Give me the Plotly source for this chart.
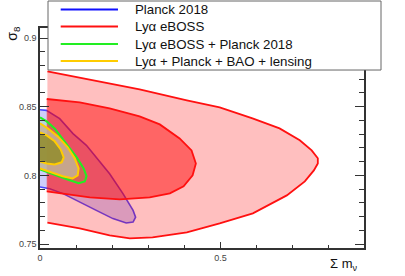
import plotly.graph_objects as go

# ---- data (sum m_nu [eV], sigma_8) ----
planck95_x = [0.0, 0.0177, 0.0546, 0.0915, 0.1286, 0.156, 0.193, 0.230, 0.258, 0.265, 0.258, 0.239, 0.202, 0.156, 0.110, 0.0637, 0.0269, 0.0]
planck95_y = [0.8478, 0.8473, 0.8413, 0.8304, 0.8219, 0.8133, 0.8012, 0.7867, 0.7745, 0.7696, 0.7660, 0.7653, 0.7685, 0.7745, 0.7806, 0.7867, 0.7903, 0.7915]

lya95_x = [0.0205, 0.110, 0.221, 0.276, 0.407, 0.498, 0.589, 0.664, 0.720, 0.753, 0.770, 0.770, 0.759, 0.734, 0.684, 0.590, 0.498, 0.407, 0.312, 0.249, 0.193, 0.110, 0.0205]
lya95_y = [0.8757, 0.8712, 0.8656, 0.8626, 0.8546, 0.8495, 0.8415, 0.8342, 0.8255, 0.8182, 0.8124, 0.8087, 0.8036, 0.7956, 0.7854, 0.7723, 0.7650, 0.7585, 0.7549, 0.7541, 0.7563, 0.7614, 0.7655]

lya68_x = [0.0186, 0.110, 0.193, 0.276, 0.332, 0.387, 0.420, 0.432, 0.423, 0.398, 0.360, 0.304, 0.221, 0.138, 0.0186]
lya68_y = [0.8556, 0.8532, 0.8488, 0.8430, 0.8371, 0.8269, 0.8182, 0.8087, 0.8000, 0.7920, 0.7869, 0.7840, 0.7825, 0.7840, 0.7883]

lyapl95_x = [0.0, 0.0186, 0.0407, 0.0732, 0.1017, 0.121, 0.129, 0.124, 0.107, 0.0823, 0.0463, 0.0186, 0.0]
lyapl95_y = [0.8422, 0.8393, 0.8342, 0.8233, 0.8131, 0.8051, 0.7993, 0.7956, 0.7942, 0.7964, 0.8000, 0.8029, 0.8044]

all95_x = [0.0, 0.0213, 0.049, 0.0768, 0.0962, 0.107, 0.1045, 0.0906, 0.0629, 0.0324, 0.0]
all95_y = [0.8379, 0.8342, 0.8284, 0.8204, 0.8124, 0.8051, 0.8000, 0.7978, 0.7993, 0.8022, 0.8051]

all68_x = [0.0, 0.0186, 0.0407, 0.0574, 0.0657, 0.0601, 0.0407, 0.0186, 0.0]
all68_y = [0.8313, 0.8291, 0.8248, 0.8189, 0.8131, 0.8095, 0.8080, 0.8087, 0.8102]

x_ticks = [0, 0.5]
x_ticklabels = ["0", "0.5"]
y_ticks = [0.75, 0.8, 0.85, 0.9]
y_ticklabels = ["0.75", "0.8", "0.85", "0.9"]

legend_names = ["Planck 2018", "Lyα eBOSS", "Lyα eBOSS + Planck 2018", "Lyα + Planck + BAO + lensing"]
legend_colors = ["#1010ff", "#ff1010", "#22ee22", "#ffcc00"]

fig = go.Figure()

def fill(x, y, color):
    fig.add_trace(go.Scatter(x=x, y=y, fill="toself", fillcolor=color, mode="lines",
                             line=dict(width=0, color=color), hoverinfo="skip", showlegend=False))

def line(x, y, color, w=1.8):
    fig.add_trace(go.Scatter(x=x, y=y, mode="lines", line=dict(width=w, color=color),
                             hoverinfo="skip", showlegend=False))

# Planck
fill(planck95_x, planck95_y, "rgba(120,120,240,0.36)")
line(planck95_x, planck95_y, "rgba(30,30,255,0.8)", 1.6)
# Lya eBOSS
fill(lya95_x, lya95_y, "rgba(255,0,0,0.25)")
fill(lya68_x, lya68_y, "rgba(255,0,0,0.47)")
line(lya95_x, lya95_y, "#ff1010")
line(lya68_x, lya68_y, "#ff1010")
# Lya + Planck
fill(lyapl95_x, lyapl95_y, "rgba(0,255,0,0.10)")
line(lyapl95_x, lyapl95_y, "#22ee22", 2)
# Lya + Planck + BAO + lensing
fill(all95_x, all95_y, "rgba(195,178,150,0.85)")
line(all95_x, all95_y, "#ffcc00", 2)
fill(all68_x, all68_y, "rgba(145,140,45,0.85)")
line(all68_x, all68_y, "#ffcc00", 2)

axis_common = dict(showgrid=False, zeroline=False, showline=True, linecolor="#333333", linewidth=1.5,
                   mirror="ticks", ticks="inside", tickcolor="#333333",
                   tickfont=dict(family="Liberation Sans, Arial", size=9, color="#444444"))

fig.update_xaxes(range=[0, 0.898], tickmode="array", tickvals=x_ticks, ticktext=x_ticklabels,
                 ticklen=6, tickwidth=1,
                 minor=dict(dtick=0.1, tick0=0, ticklen=3, ticks="inside", tickcolor="#333333"),
                 **axis_common)
fig.update_yaxes(range=[0.7471, 0.9073], tickmode="array", tickvals=y_ticks, ticktext=y_ticklabels,
                 ticklen=9, tickwidth=1,
                 minor=dict(dtick=0.01, tick0=0.75, ticklen=5, ticks="inside", tickcolor="#333333"),
                 **axis_common)

shapes = [dict(type="rect", xref="paper", yref="paper", x0=0.0247, x1=1.0525, y0=0.809, y1=1.1227,
               fillcolor="white", line=dict(color="#666666", width=1), layer="above")]
annotations = []
entry_y = [1.084, 1.007, 0.927, 0.85]
for name, col, ey in zip(legend_names, legend_colors, entry_y):
    shapes.append(dict(type="line", xref="paper", yref="paper", x0=0.0639, x1=0.2407, y0=ey, y1=ey,
                       line=dict(color=col, width=2), layer="above"))
    annotations.append(dict(text=name, xref="paper", yref="paper", x=0.287, y=ey, xanchor="left",
                            yanchor="middle", showarrow=False,
                            font=dict(family="Liberation Sans, Arial", size=13.3, color="#111111")))

annotations.append(dict(text="σ<sub>8</sub>", xref="paper", yref="paper", x=-0.086, y=0.975,
                        textangle=-90, showarrow=False, xanchor="center", yanchor="middle",
                        font=dict(family="Liberation Sans, Arial", size=14, color="#111111")))
annotations.append(dict(text="Σ m<sub>ν</sub>", xref="paper", yref="paper", x=0.984, y=-0.075,
                        showarrow=False, xanchor="right", yanchor="middle",
                        font=dict(family="Liberation Sans, Arial", size=13, color="#111111")))

fig.update_layout(width=405, height=276, margin=dict(l=40, r=41, t=28, b=28),
                  plot_bgcolor="white", paper_bgcolor="white",
                  shapes=shapes, annotations=annotations, showlegend=False)

fig.write_html("out.html", config={"displayModeBar": False},
               post_script="document.body.style.margin='0';")
